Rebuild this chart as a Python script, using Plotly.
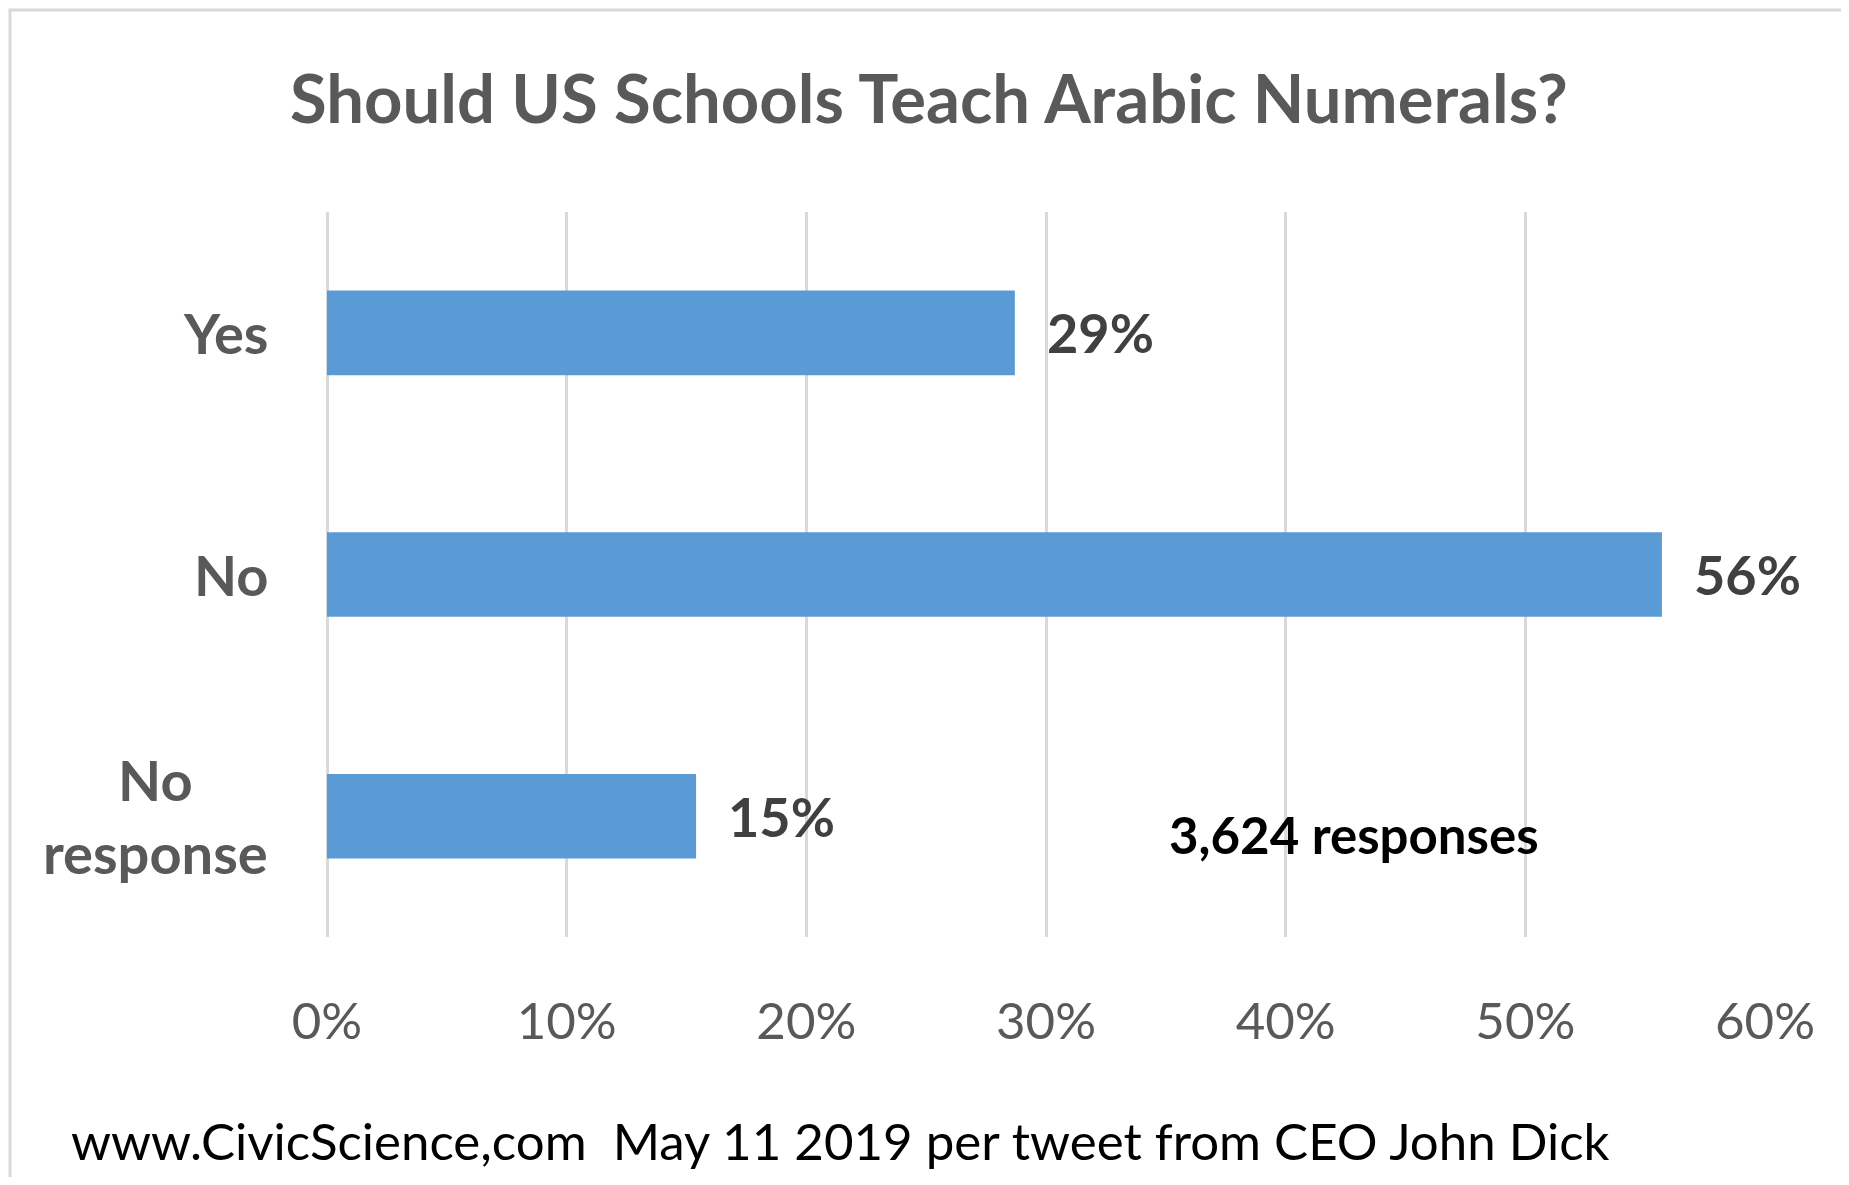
import plotly.graph_objects as go

# ---- data ----
categories = ["Yes", "No", "No response"]
category_labels = ["Yes", "No", "No<br>response"]
values = [28.7, 55.7, 15.4]
tick_vals = [0, 10, 20, 30, 40, 50, 60]
tick_text = ["0%", "10%", "20%", "30%", "40%", "50%", "60%"]
title_text = "Should US Schools Teach Arabic Numerals?"
note_text = "3,624 responses"
footer_text = "www.CivicScience,com\u00a0 May 11 2019 per tweet from CEO John Dick"

value_labels = [f"{round(v)}%" for v in values]

FONT = "Lato, 'Open Sans', sans-serif"
GRAY = "#595959"
DARK = "#404040"
BLUE = "#5B9BD5"
GRID = "#D9D9D9"

# page body has an 8px margin; size figure to fit inside the window
W, H = 1833, 1169
OFF = 8
plot_left, plot_right = 327, 1765   # screen px
plot_top, plot_bottom = 212, 937

fig = go.Figure()
fig.add_trace(go.Bar(
    x=values, y=categories, orientation="h",
    marker=dict(color=BLUE, line=dict(width=0)),
    hoverinfo="skip",
))

def px_to_paper_x(px):
    return (px - plot_left) / (plot_right - plot_left)

def px_to_paper_y(py):
    return (plot_bottom - py) / (plot_bottom - plot_top)

annotations = []
# category labels (centered multi-line, right edge at fixed offset)
for cat, lab in zip(categories, category_labels):
    annotations.append(dict(
        x=0, xref="paper", y=cat, yref="y", text=lab,
        xanchor="right", yanchor="middle", align="center", xshift=-57,
        showarrow=False,
        font=dict(family=FONT, size=56, color=GRAY, weight="bold"),
    ))
# value labels
for cat, v, lab in zip(categories, values, value_labels):
    annotations.append(dict(
        x=v, xref="x", y=cat, yref="y", text=lab,
        xanchor="left", yanchor="middle", xshift=30, showarrow=False,
        font=dict(family=FONT, size=54, color=DARK, weight="bold"),
    ))
# title
annotations.append(dict(
    x=px_to_paper_x(929), xref="paper", y=px_to_paper_y(97), yref="paper",
    text=title_text, xanchor="center", yanchor="middle", showarrow=False,
    font=dict(family=FONT, size=67, color=GRAY, weight="bold"),
))
# note
annotations.append(dict(
    x=px_to_paper_x(1354), xref="paper", y=px_to_paper_y(834), yref="paper",
    text=note_text, xanchor="center", yanchor="middle", showarrow=False,
    font=dict(family=FONT, size=51, color="#000000", weight="bold"),
))
# footer
annotations.append(dict(
    x=px_to_paper_x(69), xref="paper", y=px_to_paper_y(1140), yref="paper",
    text=footer_text, xanchor="left", yanchor="middle", showarrow=False,
    font=dict(family=FONT, size=51, color="#000000"),
))

fig.update_layout(
    width=W, height=H,
    margin=dict(l=plot_left - OFF, r=W - (plot_right - OFF),
                t=plot_top - OFF, b=H - (plot_bottom - OFF), pad=0),
    paper_bgcolor="white", plot_bgcolor="white",
    showlegend=False,
    bargap=0.65,
    annotations=annotations,
    shapes=[dict(
        type="rect", xref="paper", yref="paper",
        x0=px_to_paper_x(10), x1=px_to_paper_x(1846),
        y0=px_to_paper_y(1200), y1=px_to_paper_y(10),
        line=dict(color=GRID, width=3), fillcolor="rgba(0,0,0,0)", layer="below",
    )],
    xaxis=dict(
        range=[0, 60], tickvals=tick_vals, ticktext=tick_text,
        showgrid=True, gridcolor=GRID, gridwidth=3,
        zeroline=True, zerolinecolor=GRID, zerolinewidth=3,
        showline=False, ticks="",
        tickfont=dict(family=FONT, size=51, color=GRAY),
        ticklabelstandoff=50, fixedrange=True,
    ),
    yaxis=dict(
        categoryorder="array", categoryarray=categories,
        range=[2.5, -0.5], showticklabels=False, showgrid=False,
        zeroline=False, showline=False, ticks="", fixedrange=True,
    ),
)

fig.write_html("out.html", config={"displayModeBar": False})
